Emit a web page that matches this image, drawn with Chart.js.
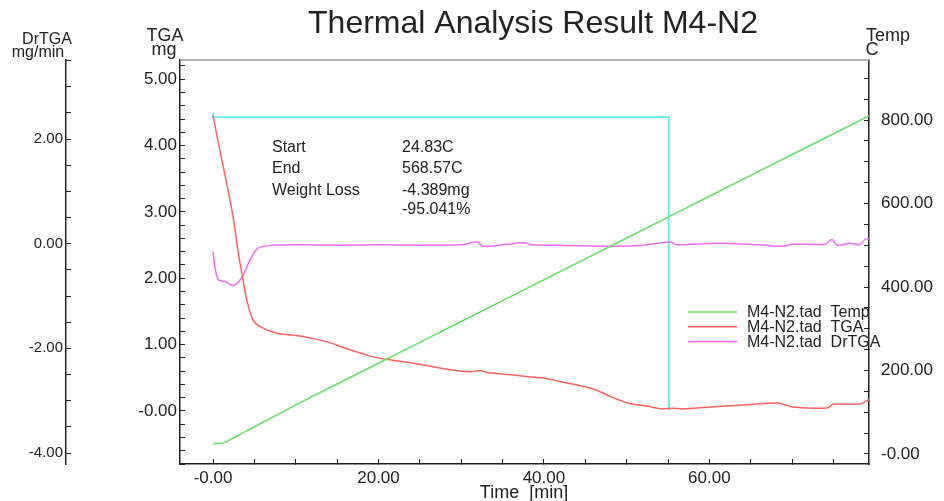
<!DOCTYPE html>
<html>
<head>
<meta charset="utf-8">
<title>Thermal Analysis Result M4-N2</title>
<script src="https://cdn.jsdelivr.net/npm/chart.js@4/dist/chart.umd.min.js"></script>
<style>
    html, body { margin: 0; padding: 0; background: #fff; }
    #wrap { width: 944px; height: 501px; position: relative; }
</style>
</head>
<body>
<div id="wrap"><canvas id="tga"></canvas></div>
<script>
(function () {
    'use strict';

    // ── Data ─────────────────────────────────────────────────────
    const tempTime = [0, 1, 1.5, 2.2, 2.9, 4.9, 10, 20, 30, 40, 50, 60, 70, 79.3];
    const tempVal  = [24.8, 25.5, 28.5, 36, 43, 64, 117.5, 217.5, 317.5, 417.5, 517.5, 617.5, 717.5, 810];

    const tgaTime = [0, 0.81, 1.65, 2.42, 3.0, 3.47, 4.08, 4.84, 5.68, 7.7, 10.5, 12.1, 14.1, 16.1,
                     18.9, 21.3, 24.2, 28.3, 31.1, 32.3, 33.1, 36.3, 37.9, 40.3, 42.0, 44.4, 46.0,
                     48.0, 50.1, 52.5, 54.4, 55.5, 56.8, 60.1, 64.1, 68.2, 70.1, 74.2, 75.0, 78.2, 79.3];
    const tgaVal  = [4.45, 3.93, 3.43, 2.92, 2.42, 2.08, 1.67, 1.37, 1.27, 1.17, 1.13, 1.09, 1.03, 0.94,
                     0.83, 0.77, 0.72, 0.63, 0.59, 0.61, 0.58, 0.54, 0.52, 0.49, 0.44, 0.38, 0.33,
                     0.22, 0.12, 0.07, 0.03, 0.04, 0.03, 0.06, 0.09, 0.12, 0.06, 0.045, 0.10, 0.105, 0.17];

    const drTime = [0, 0.2, 0.64, 1.45, 2.45, 3.47, 4.47, 5.47, 7.3, 10.5, 15, 20, 25, 30, 31.9, 32.7,
                    35, 37.7, 38.5, 42, 48.4, 52, 55.3, 56, 61, 66, 68.9, 70.1, 74, 74.8, 75.5, 77,
                    78.2, 78.8, 79.3];
    const drVal  = [-0.15, -0.43, -0.69, -0.72, -0.80, -0.65, -0.31, -0.08, -0.03, -0.02, -0.03, -0.02,
                    -0.03, -0.02, 0.03, -0.05, -0.02, 0.02, -0.02, -0.03, -0.05, -0.03, 0.03, -0.02,
                    0.01, -0.02, -0.05, -0.01, -0.01, 0.08, -0.03, 0.01, -0.02, 0.08, 0.1];

    // analysis bracket (start/end of the weight loss step)
    const boxTime = [0, 0, 55.1, 55.1];
    const boxVal  = [4.49, 4.43, 4.43, 0.01];

    const infoLabels = ['Start', 'End', 'Weight Loss', ''];
    const infoValues = ['24.83C', '568.57C', '-4.389mg', '-95.041%'];

    // ── Styles ───────────────────────────────────────────────────
    const FONT       = "'Liberation Sans', Arial, sans-serif";
    const INK        = '#222222';
    const TEMP_COLOR = '#62e262';
    const TGA_COLOR  = '#ff6262';
    const DR_COLOR   = '#f06cf0';
    const BOX_COLOR  = '#66e6f2';

    function pts(xs, ys) {
        return xs.map((x, i) => ({ x, y: ys[i] }));
    }

    function fmt(minusZero) {
        return v => {
            if (Math.abs(v) < 1e-9) return minusZero ? '-0.00' : '0.00';
            return Number(v).toFixed(2);
        };
    }

    // label every `every` units, blank minor ticks
    function tickLabel(every, minusZero) {
        const f = fmt(minusZero);
        return v => {
            const r = v / every;
            return Math.abs(r - Math.round(r)) < 1e-6 ? f(v) : '';
        };
    }

    function axis(extra) {
        return Object.assign({
            type: 'linear',
            grid:   { drawOnChartArea: false, tickLength: -5, color: INK, tickWidth: 1 },
            border: { color: INK, width: 1.5 }
        }, extra);
    }

    // ── Extra drawing: title, axis titles, legend, info block ───
    const decorPlugin = {
        id: 'decor',
        afterDraw(chart) {
            const ctx = chart.ctx;
            const a = chart.chartArea;
            ctx.save();

            // top frame line
            ctx.strokeStyle = '#9a9a9a';
            ctx.lineWidth = 1.5;
            ctx.beginPath();
            ctx.moveTo(a.left, a.top);
            ctx.lineTo(a.right, a.top);
            ctx.stroke();

            ctx.fillStyle = INK;
            ctx.textAlign = 'center';
            ctx.textBaseline = 'alphabetic';

            ctx.font = '32px ' + FONT;
            ctx.fillText('Thermal Analysis Result M4-N2', 533, 33);

            ctx.font = '16px ' + FONT;
            ctx.fillText('DrTGA', 47, 44);
            ctx.fillText('mg/min', 38, 57);

            ctx.font = '18px ' + FONT;
            ctx.fillText('TGA', 165, 41);
            ctx.fillText('mg', 164, 55);
            ctx.fillText('Temp', 888, 41);
            ctx.fillText('C', 872, 55);
            ctx.fillText('Time  [min]', 524, 498);

            // info block
            ctx.textAlign = 'left';
            ctx.font = '16px ' + FONT;
            const rows = [152, 173, 195, 214];
            infoLabels.forEach((t, i) => {
                if (t) ctx.fillText(t, 272, rows[i]);
                ctx.fillText(infoValues[i], 402, rows[i]);
            });

            // legend
            let ly = 312;
            chart.data.datasets.forEach(ds => {
                if (!ds.label) return;
                ctx.strokeStyle = ds.borderColor;
                ctx.lineWidth = 1.5;
                ctx.beginPath();
                ctx.moveTo(688, ly);
                ctx.lineTo(737, ly);
                ctx.stroke();
                ctx.fillStyle = INK;
                ctx.textBaseline = 'middle';
                ctx.fillText(ds.label, 747, ly + 1);
                ly += 14.8;
            });

            ctx.restore();
        }
    };

    new Chart(document.getElementById('tga'), {
        type: 'scatter',
        data: {
            datasets: [
                {
                    label: 'M4-N2.tad  Temp',
                    data: pts(tempTime, tempVal),
                    yAxisID: 'yTemp',
                    borderColor: TEMP_COLOR, borderWidth: 1.5,
                    showLine: true, pointRadius: 0, tension: 0.2
                },
                {
                    label: 'M4-N2.tad  TGA',
                    data: pts(tgaTime, tgaVal),
                    yAxisID: 'yTGA',
                    borderColor: TGA_COLOR, borderWidth: 1.5,
                    showLine: true, pointRadius: 0, tension: 0.3
                },
                {
                    label: 'M4-N2.tad  DrTGA',
                    data: pts(drTime, drVal),
                    yAxisID: 'yDr',
                    borderColor: DR_COLOR, borderWidth: 1.5,
                    showLine: true, pointRadius: 0, tension: 0.3
                },
                {
                    label: '',
                    data: pts(boxTime, boxVal),
                    yAxisID: 'yTGA',
                    borderColor: BOX_COLOR, borderWidth: 1.8,
                    showLine: true, pointRadius: 0, tension: 0
                }
            ]
        },
        options: {
            responsive: true,
            maintainAspectRatio: false,
            animation: false,
            events: [],
            layout: { padding: { top: 60, left: 0, right: 0, bottom: 0 } },
            plugins: {
                legend:  { display: false },
                tooltip: { enabled: false },
                title:   { display: false }
            },
            scales: {
                x: axis({
                    position: 'bottom',
                    min: -4, max: 79.3,
                    ticks: {
                        stepSize: 5, includeBounds: false, autoSkip: false,
                        maxRotation: 0, padding: 9,
                        color: INK, font: { family: FONT, size: 17 },
                        callback: tickLabel(20, true)
                    },
                    afterFit: s => { s.height = 37; }
                }),
                yTGA: axis({
                    position: 'left', weight: 1,
                    min: -0.8, max: 5.29,
                    ticks: {
                        stepSize: 0.2, includeBounds: false, autoSkip: false, padding: 8,
                        color: INK, font: { family: FONT, size: 17 },
                        callback: tickLabel(1, true)
                    },
                    afterFit: s => { s.width = 114; }
                }),
                yDr: axis({
                    position: 'left', weight: 2,
                    min: -4.21, max: 3.51,
                    ticks: {
                        stepSize: 0.5, includeBounds: false, autoSkip: false, padding: 8,
                        color: INK, font: { family: FONT, size: 15 },
                        callback: tickLabel(2, false)
                    },
                    afterFit: s => { s.width = 66; }
                }),
                yTemp: axis({
                    position: 'right',
                    min: -24, max: 944,
                    ticks: {
                        stepSize: 50, includeBounds: false, autoSkip: false, padding: 17,
                        color: INK, font: { family: FONT, size: 17 },
                        callback: tickLabel(200, true)
                    },
                    afterFit: s => { s.width = 75; }
                })
            }
        },
        plugins: [decorPlugin]
    });
})();
</script>
</body>
</html>
